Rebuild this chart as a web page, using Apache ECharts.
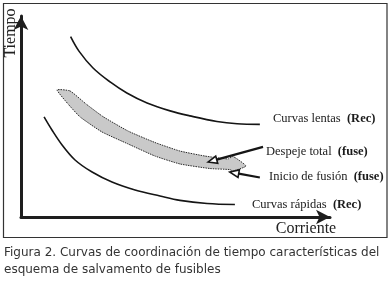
<!DOCTYPE html>
<html>
<head>
<meta charset="utf-8">
<script src="https://cdn.jsdelivr.net/npm/echarts@6/dist/echarts.min.js"></script>
<style>html,body{margin:0;padding:0;background:#fff;}#c{width:390px;height:287px;}</style>
</head>
<body>
<div id="c"></div>
<script>
// Conceptual units (current on x, time on y)
const slowCurve = [[15.7,86.7],[18.4,79.6],[22.8,71.6],[28.2,64.9],[33.5,59.6],[39.9,54.8],[47.2,51.0],[53.5,48.6],[62.0,45.9],[68.4,44.8],[75.6,44.5]];
const fastCurve = [[7.3,48.1],[9.8,41.8],[13.0,34.6],[17.1,27.4],[22.5,21.6],[28.8,16.8],[36.1,13.0],[44.0,10.1],[50.3,8.0],[58.9,6.5],[67.7,6.0]];
const bandUpper = [[15.5,60.6],[20.6,54.3],[25.9,48.3],[33.9,41.3],[42.4,35.8],[50.3,31.7],[58.2,29.3],[65.5,27.9],[67.1,29.1],[71.2,24.5]];
const bandLower = [[67.1,22.1],[66.1,22.8],[59.8,23.3],[50.3,25.5],[42.4,29.3],[33.9,35.1],[25.6,40.9],[18.7,48.1],[14.9,54.3],[11.4,61.1]];
const pointers = [[76.6,33.7,59.2,26.4],[75.6,19.0,66.1,21.6]];
const xMax = 97.8, yMax = 96.6;
const axisNames = ['Tiempo','Corriente'];
const curveLabels = [
  ['Curvas lentas  ', '(Rec)'],
  ['Despeje total  ', '(fuse)'],
  ['Inicio de fusión  ', '(fuse)'],
  ['Curvas rápidas  ', '(Rec)']
];
const captionLines = ['Figura 2. Curvas de coordinación de tiempo características del', 'esquema de salvamento de fusibles'];

const chart = echarts.init(document.getElementById('c'), null, {renderer:'canvas'});
const bandOutline = bandUpper.concat(bandLower);
const serif = '"Liberation Serif","Times New Roman",serif';
const labelPos = [[273,119],[266,152],[269,177],[252,205]];

const option = {
  animation: false,
  backgroundColor: '#fff',
  grid: {left: 21, top: 16, width: 309, height: 201, containLabel: false},
  xAxis: {type:'value', min:0, max:xMax, axisTick:{show:false}, axisLabel:{show:false}, splitLine:{show:false},
    axisLine:{show:true, onZero:false, symbol:['none','arrow'], symbolSize:[11,14], lineStyle:{color:'#1e1e1e', width:3}}},
  yAxis: {type:'value', min:0, max:yMax, axisTick:{show:false}, axisLabel:{show:false}, splitLine:{show:false},
    axisLine:{show:true, onZero:false, symbol:['none','arrow'], symbolSize:[11,14], lineStyle:{color:'#1e1e1e', width:3}}},
  series: [
    {type:'line', data: slowCurve, smooth:0.35, symbol:'none', lineStyle:{color:'#151515', width:1.6}, silent:true},
    {type:'line', data: fastCurve, smooth:0.35, symbol:'none', lineStyle:{color:'#151515', width:1.6}, silent:true},
    {type:'custom', data:[[0,0]], silent:true,
      renderItem: function(params, api){
        const pts = bandOutline.map(p => api.coord(p));
        return {type:'polygon', shape:{points:pts, smooth:0.15},
          style:{fill:'#c9c9c9', stroke:'#2a2a2a', lineWidth:1, lineDash:[1.5,1]}};
      }},
    {type:'custom', data: pointers, encode:{x:[0,2], y:[1,3]}, silent:true,
      renderItem: function(params, api){
        const a = api.coord([api.value(0), api.value(1)]);
        const b = api.coord([api.value(2), api.value(3)]);
        const dx = b[0]-a[0], dy = b[1]-a[1], L = Math.sqrt(dx*dx+dy*dy);
        const ux = dx/L, uy = dy/L, hl = 9, hw = 3.8;
        const base = [b[0]-ux*hl, b[1]-uy*hl];
        return {type:'group', children:[
          {type:'line', shape:{x1:a[0], y1:a[1], x2:base[0], y2:base[1]}, style:{stroke:'#151515', lineWidth:2.2}},
          {type:'polygon', shape:{points:[b, [base[0]-uy*hw, base[1]+ux*hw], [base[0]+uy*hw, base[1]-ux*hw]]},
            style:{fill:'#fff', stroke:'#151515', lineWidth:1.6}}
        ]};
      }}
  ],
  graphic: [
    {type:'rect', shape:{x:3.5, y:3.5, width:383.5, height:234}, style:{fill:'none', stroke:'#333', lineWidth:1.2}, z:-1},
    {type:'text', x:11, y:33, rotation:Math.PI/2, style:{text:axisNames[0], font:'16px '+serif, fill:'#222', align:'center', verticalAlign:'middle'}},
    {type:'text', x:306, y:229, style:{text:axisNames[1], font:'16px '+serif, fill:'#222', align:'center', verticalAlign:'middle'}}
  ].concat(curveLabels.map((l,i)=>({
    type:'text', x:labelPos[i][0], y:labelPos[i][1],
    style:{text: l[0]+'{b|'+l[1]+'}', font:'12.5px '+serif, fill:'#1a1a1a', verticalAlign:'middle',
      rich:{b:{fontWeight:'bold', fontSize:12.5, fontFamily:serif, fill:'#1a1a1a'}}}
  }))).concat(captionLines.map((t,i)=>({
    type:'text', x:4, y:253+i*17, style:{text:t, font:'12px "DejaVu Sans",sans-serif', fill:'#333', verticalAlign:'middle'}
  })))
};
chart.setOption(option);
</script>
</body>
</html>
